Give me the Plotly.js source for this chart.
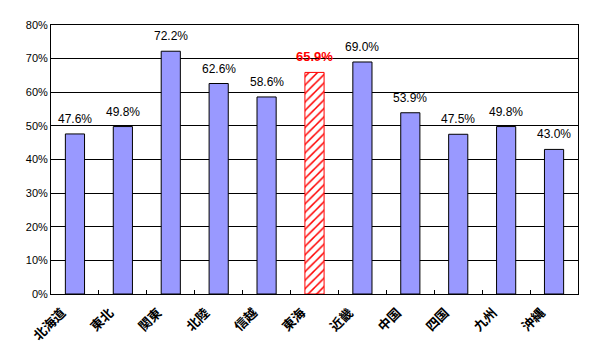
<!DOCTYPE html>
<html><head><meta charset="utf-8">
<script src="https://cdn.plot.ly/plotly-3.0.1.min.js"></script>
<style>body{margin:0;background:#fff}#c{width:590px;height:360px}</style>
</head><body><div id="c"></div>
<script>
const categories = ['北海道','東北','関東','北陸','信越','東海','近畿','中国','四国','九州','沖縄'];
const values = [47.6, 49.8, 72.2, 62.6, 58.6, 65.9, 69.0, 53.9, 47.5, 49.8, 43.0];
const highlight = '東海';

const isHi = categories.map(c => c === highlight);
const normalTrace = {
  type: 'bar',
  x: categories,
  y: values.map((v, i) => isHi[i] ? null : v),
  marker: {color: '#9999ff', line: {color: '#000000', width: 1}},
  hoverinfo: 'none'
};
const hiTrace = {
  type: 'bar',
  x: categories,
  y: values.map((v, i) => isHi[i] ? v : null),
  marker: {
    color: '#ffffff',
    line: {color: '#ff0000', width: 1},
    pattern: {shape: '/', fgcolor: '#ff0000', bgcolor: '#ffffff', fgopacity: 1, size: 6, solidity: 0.25, fillmode: 'replace'}
  },
  hoverinfo: 'none'
};

const annotations = categories.map((c, i) => ({
  x: c, y: values[i], xref: 'x', yref: 'y',
  yanchor: 'bottom', yshift: 6, showarrow: false,
  text: isHi[i] ? '<b>' + values[i].toFixed(1) + '%</b>' : values[i].toFixed(1) + '%',
  font: {family: 'Liberation Sans, Arial, sans-serif', size: isHi[i] ? 13 : 12, color: isHi[i] ? '#ff0000' : '#000000'}
}));

const layout = {
  width: 590, height: 360,
  margin: {l: 51, r: 12, t: 25, b: 66},
  paper_bgcolor: '#ffffff',
  plot_bgcolor: '#ffffff',
  barmode: 'overlay',
  bargap: 0.6,
  showlegend: false,
  annotations: annotations,
  xaxis: {
    showline: true, linecolor: '#000', linewidth: 1, mirror: true,
    ticks: 'inside', tickson: 'boundaries', ticklen: 4, tickcolor: '#000',
    tickangle: -45, ticklabelshift: -13, ticklabelstandoff: 5,
    tickfont: {family: 'Noto Sans CJK JP', size: 13, color: '#000', weight: 'bold'},
    showgrid: false
  },
  yaxis: {
    range: [0, 80], dtick: 10, ticksuffix: '%',
    showline: true, linecolor: '#000', linewidth: 1, mirror: true,
    showgrid: true, gridcolor: '#000', gridwidth: 1,
    ticks: '', zeroline: false,
    tickfont: {family: 'Liberation Sans, Arial, sans-serif', size: 11, color: '#000'}
  }
};

Plotly.newPlot('c', [normalTrace, hiTrace], layout, {displayModeBar: false, staticPlot: true});
</script>
</body></html>
